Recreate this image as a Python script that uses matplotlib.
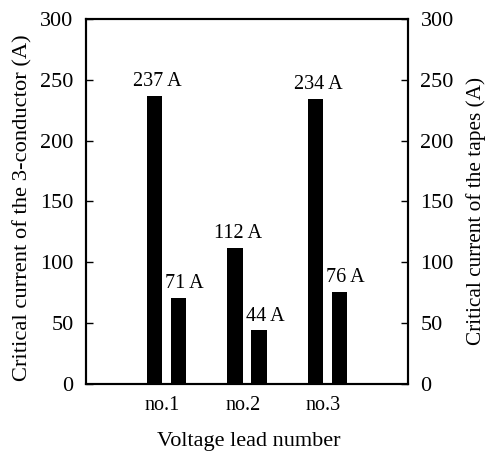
import matplotlib
matplotlib.use("Agg")
import matplotlib.pyplot as plt
import numpy as np

plt.rcParams['font.family'] = ['Liberation Serif', 'DejaVu Serif']

leads = ["no.1", "no.2", "no.3"]
conductor_ic = [237, 112, 234]
tape_ic = [71, 44, 76]
conductor_labels = ["237 A", "112 A", "234 A"]
tape_labels = ["71 A", "44 A", "76 A"]
y_ticks = [0, 50, 100, 150, 200, 250, 300]

fig = plt.figure(figsize=(4.86, 4.53), dpi=100)
ax = fig.add_axes([86/486, 1-384/453, (408-86)/486, (384-19)/453])

x = np.arange(1, len(leads) + 1)
w = 0.19
off = 0.15
ax.bar(x - off, conductor_ic, width=w, color='black')
ax.bar(x + off, tape_ic, width=w, color='black')
afs = 14.5
for xi, v, t in zip(x - off, conductor_ic, conductor_labels):
    ax.text(xi + 0.035, v + 4, t, ha='center', va='bottom', fontsize=afs)
for xi, v, t in zip(x + off, tape_ic, tape_labels):
    ax.text(xi + 0.075, v + 4, t, ha='center', va='bottom', fontsize=afs)

ax.set_xlim(0, 4)
ax.set_ylim(0, 300)
ax.set_xticks(x - 0.05)
ax.set_xticklabels(leads, fontsize=14.5)
ax.tick_params(axis='x', length=0, pad=9)
ax.set_yticks(y_ticks)
ax.tick_params(axis='y', direction='in', length=5, width=1, labelsize=16, pad=9)
ax.set_ylabel("Critical current of the 3-conductor (A)", fontsize=16.2)
ax.yaxis.set_label_coords(-0.165, 0.482)
ax.set_xlabel("Voltage lead number", fontsize=16)
ax.xaxis.set_label_coords(0.506, -0.1315)
for s in ax.spines.values():
    s.set_linewidth(1.5)

ax2 = ax.twinx()
ax2.set_ylim(0, 300)
ax2.set_yticks(y_ticks)
ax2.tick_params(axis='y', direction='in', length=5, width=1, labelsize=16, pad=9)
ax2.set_ylabel("Critical current of the tapes (A)", fontsize=15.3)
ax2.yaxis.set_label_coords(1.18, 0.474)
for s in ax2.spines.values():
    s.set_linewidth(1.5)

fig.savefig("out.png", dpi=100)
